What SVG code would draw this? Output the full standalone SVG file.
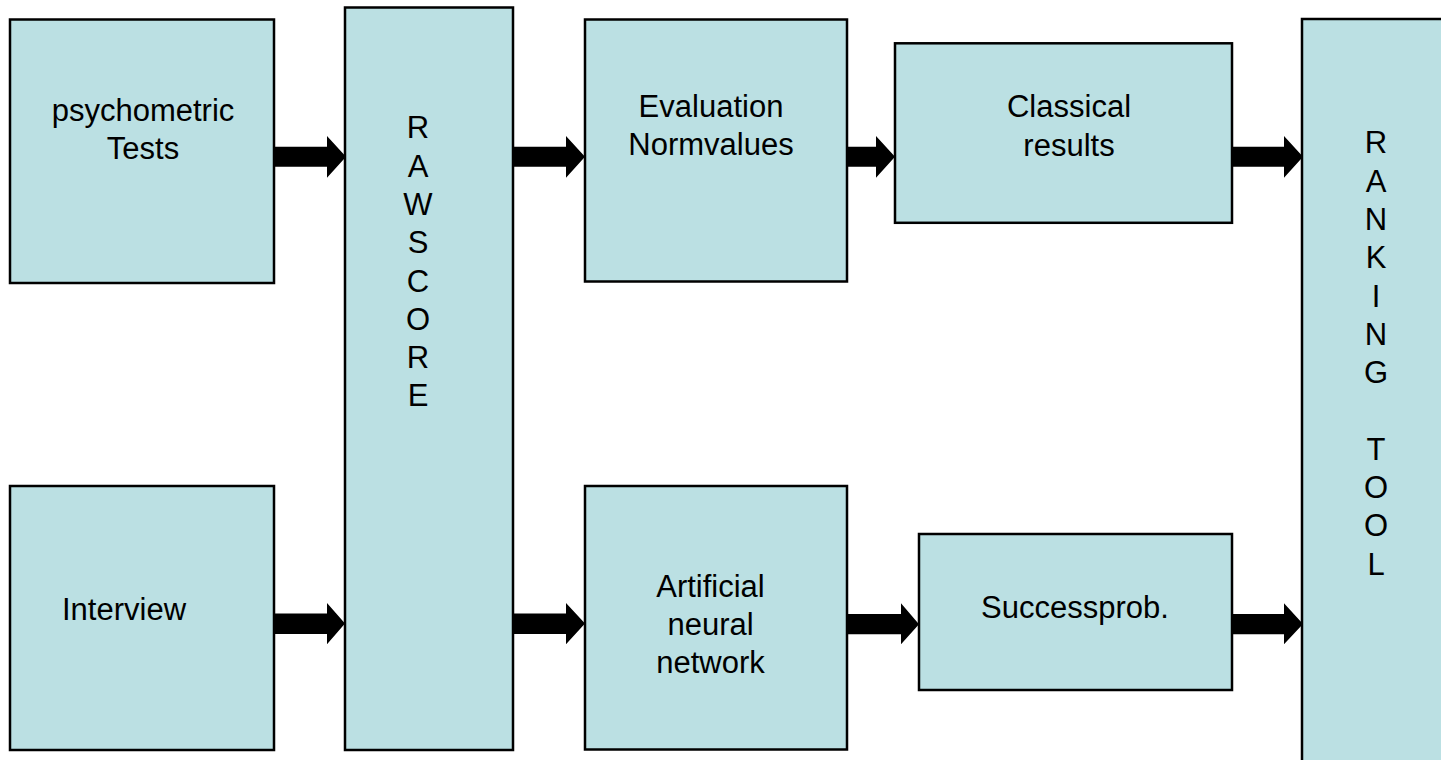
<svg xmlns="http://www.w3.org/2000/svg" width="1441" height="760" viewBox="0 0 1441 760">
<style>
.box{fill:#BBE0E3;stroke:#000;stroke-width:2.5}
.t{font-family:"Liberation Sans",Arial,sans-serif;font-size:31px;fill:#000;text-anchor:middle}
.arr{fill:#000;stroke:none}
</style>
<rect width="1441" height="760" fill="#fff"/>
<g id="connectors">
<path class="arr" d="M274,146.7H327V136L346,156.7L327,177.7V166.7H274Z"/>
<path class="arr" d="M513,146.7H566V136L585,156.7L566,177.7V166.7H513Z"/>
<path class="arr" d="M847,146.7H876V136L895,156.7L876,177.7V166.7H847Z"/>
<path class="arr" d="M1232,146.7H1284V136L1303,156.7L1284,177.7V166.7H1232Z"/>
<path class="arr" d="M274,613.5H327V603L345,623.5L327,644.3V634H274Z"/>
<path class="arr" d="M513,613.5H566V603L585,623.5L566,644.3V634H513Z"/>
<path class="arr" d="M847,614H901V603.3L919,624.3L901,644.3V634.3H847Z"/>
<path class="arr" d="M1232,614H1284V603.3L1303,624L1284,644.3V634.3H1232Z"/>
</g>
<g id="psychometric">
<rect class="box" x="10" y="19.5" width="264" height="263.5"/>
<text class="t" x="143" y="121">psychometric</text>
<text class="t" x="143" y="159">Tests</text>
</g>
<g id="interview">
<rect class="box" x="10" y="486" width="264" height="264"/>
<text class="t" x="124" y="620">Interview</text>
</g>
<g id="rawscore">
<rect class="box" x="345" y="7.5" width="168" height="742.5"/>
<text class="t" x="418" y="138.3">R</text>
<text class="t" x="418" y="176.6">A</text>
<text class="t" x="418" y="214.9">W</text>
<text class="t" x="418" y="253.2">S</text>
<text class="t" x="418" y="291.5">C</text>
<text class="t" x="418" y="329.8">O</text>
<text class="t" x="418" y="368.1">R</text>
<text class="t" x="418" y="406.4">E</text>
</g>
<g id="evaluation">
<rect class="box" x="585" y="19.5" width="262" height="262"/>
<text class="t" x="711" y="116.7">Evaluation</text>
<text class="t" x="711" y="155">Normvalues</text>
</g>
<g id="ann">
<rect class="box" x="585" y="486" width="262" height="263.5"/>
<text class="t" x="710.5" y="596.7">Artificial</text>
<text class="t" x="710.5" y="635">neural</text>
<text class="t" x="710.5" y="673.3">network</text>
</g>
<g id="classical">
<rect class="box" x="895" y="43.3" width="337" height="179.5"/>
<text class="t" x="1069" y="117.3">Classical</text>
<text class="t" x="1069" y="156">results</text>
</g>
<g id="successprob">
<rect class="box" x="919" y="534" width="313" height="156"/>
<text class="t" x="1075" y="618.3">Successprob.</text>
</g>
<g id="ranking">
<rect class="box" x="1302" y="19" width="150" height="750"/>
<text class="t" x="1376" y="153.3">R</text>
<text class="t" x="1376" y="191.6">A</text>
<text class="t" x="1376" y="229.9">N</text>
<text class="t" x="1376" y="268.2">K</text>
<text class="t" x="1376" y="306.5">I</text>
<text class="t" x="1376" y="344.8">N</text>
<text class="t" x="1376" y="383.1">G</text>
<text class="t" x="1376" y="459.7">T</text>
<text class="t" x="1376" y="498">O</text>
<text class="t" x="1376" y="536.3">O</text>
<text class="t" x="1376" y="574.6">L</text>
</g>
</svg>
